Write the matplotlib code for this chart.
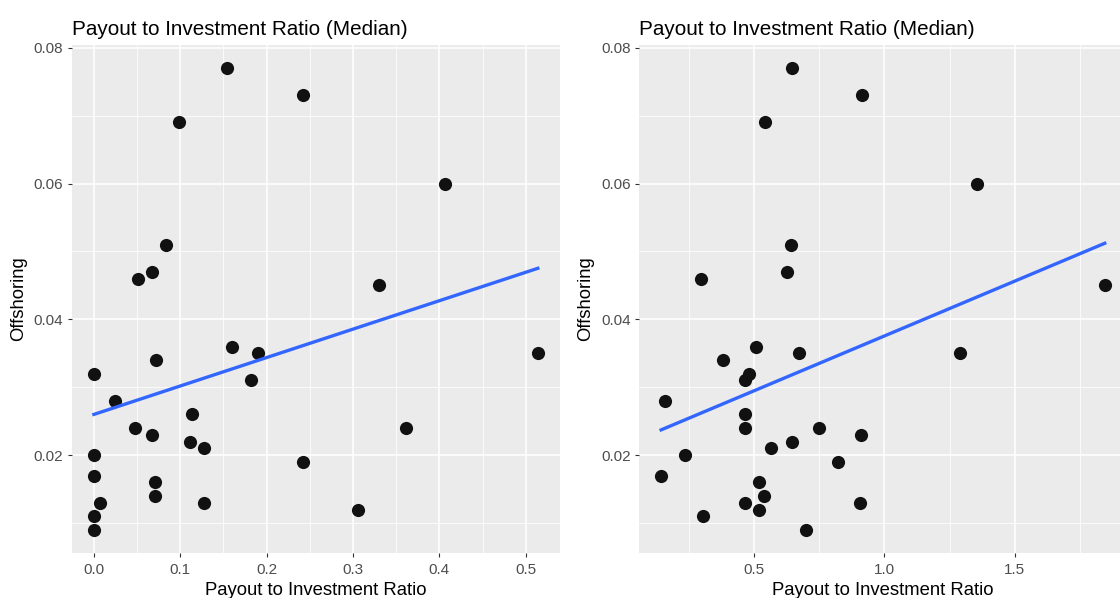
import matplotlib
matplotlib.use("Agg")
import matplotlib.pyplot as plt
import numpy as np

plt.rcParams['font.family'] = ['Liberation Sans', 'DejaVu Sans']

# Offshoring vs payout to investment ratio (median), two versions of the ratio
left_ratio = [0.154, 0.242, 0.099, 0.406, 0.083, 0.067, 0.051, 0.330, 0.0, 0.072,
              0.160, 0.190, 0.514, 0.182, 0.024, 0.114, 0.048, 0.361, 0.067, 0.111,
              0.128, 0.0, 0.242, 0.0, 0.071, 0.071, 0.007, 0.128, 0.306, 0.0, 0.0]
left_offshoring = [0.077, 0.073, 0.069, 0.060, 0.051, 0.047, 0.046, 0.045, 0.032, 0.034,
                   0.036, 0.035, 0.035, 0.031, 0.028, 0.026, 0.024, 0.024, 0.023, 0.022,
                   0.021, 0.020, 0.019, 0.017, 0.016, 0.014, 0.013, 0.013, 0.012, 0.011, 0.009]

right_ratio = [0.646, 0.915, 0.541, 1.356, 0.641, 0.628, 0.296, 1.845, 0.482, 0.380,
               0.508, 0.674, 1.289, 0.467, 0.158, 0.467, 0.467, 0.749, 0.909, 0.644,
               0.565, 0.234, 0.823, 0.144, 0.521, 0.540, 0.467, 0.906, 0.521, 0.305, 0.698]
right_offshoring = [0.077, 0.073, 0.069, 0.060, 0.051, 0.047, 0.046, 0.045, 0.032, 0.034,
                    0.036, 0.035, 0.035, 0.031, 0.028, 0.026, 0.024, 0.024, 0.023, 0.022,
                    0.021, 0.020, 0.019, 0.017, 0.016, 0.014, 0.013, 0.013, 0.012, 0.011, 0.009]

left_xticks = [0.0, 0.1, 0.2, 0.3, 0.4, 0.5]
right_xticks = [0.5, 1.0, 1.5]
yticks = [0.02, 0.04, 0.06, 0.08]

title = "Payout to Investment Ratio (Median)"
xlabel = "Payout to Investment Ratio"
ylabel = "Offshoring"


def expand(vals, frac=0.05):
    lo, hi = min(vals), max(vals)
    pad = (hi - lo) * frac
    return lo - pad, hi + pad


def gg_panel(ax, x, y, xticks):
    ax.set_facecolor('#EBEBEB')
    for s in ax.spines.values():
        s.set_visible(False)
    ax.set_xticks(xticks)
    ax.set_yticks(yticks)
    step_x = xticks[1] - xticks[0]
    minor_x = [t + step_x / 2 for t in [xticks[0] - step_x] + xticks]
    ax.set_xticks(minor_x, minor=True)
    ax.set_yticks([0.01, 0.03, 0.05, 0.07], minor=True)
    ax.set_xticklabels([f"{t:.1f}" for t in xticks])
    ax.set_yticklabels([f"{t:.2f}" for t in yticks])
    # limits after ticks, otherwise set_ticks widens the view
    ax.set_xlim(expand(x))
    ax.set_ylim(expand(y))
    ax.grid(which='major', color='white', linewidth=1.1)
    ax.grid(which='minor', color='white', linewidth=0.55)
    ax.set_axisbelow(True)
    ax.tick_params(which='major', length=3, width=0.8, color='#333333',
                   labelcolor='#4D4D4D', labelsize=11, pad=3)
    ax.tick_params(axis='x', which='major', pad=4.5)
    ax.tick_params(which='minor', length=0)

    ax.scatter(x, y, s=90, color='#111111', zorder=3, linewidths=0)
    slope, intercept = np.polyfit(x, y, 1)
    xs = np.array([min(x), max(x)])
    ax.plot(xs, intercept + slope * xs, color='#3366FF', linewidth=2.4, zorder=4)

    ax.set_title(title, loc='left', fontsize=14.9, pad=7)
    ax.set_xlabel(xlabel, fontsize=13.3, labelpad=3.5)
    ax.set_ylabel(ylabel, fontsize=13.3, labelpad=5)


fig = plt.figure(figsize=(11.2, 5.98), dpi=100)
ax1 = fig.add_axes([0.064, 0.0753, 0.436, 0.8495])
ax2 = fig.add_axes([0.5705, 0.0753, 0.4357, 0.8495])

gg_panel(ax1, left_ratio, left_offshoring, left_xticks)
gg_panel(ax2, right_ratio, right_offshoring, right_xticks)

fig.savefig("out.png", dpi=100)
